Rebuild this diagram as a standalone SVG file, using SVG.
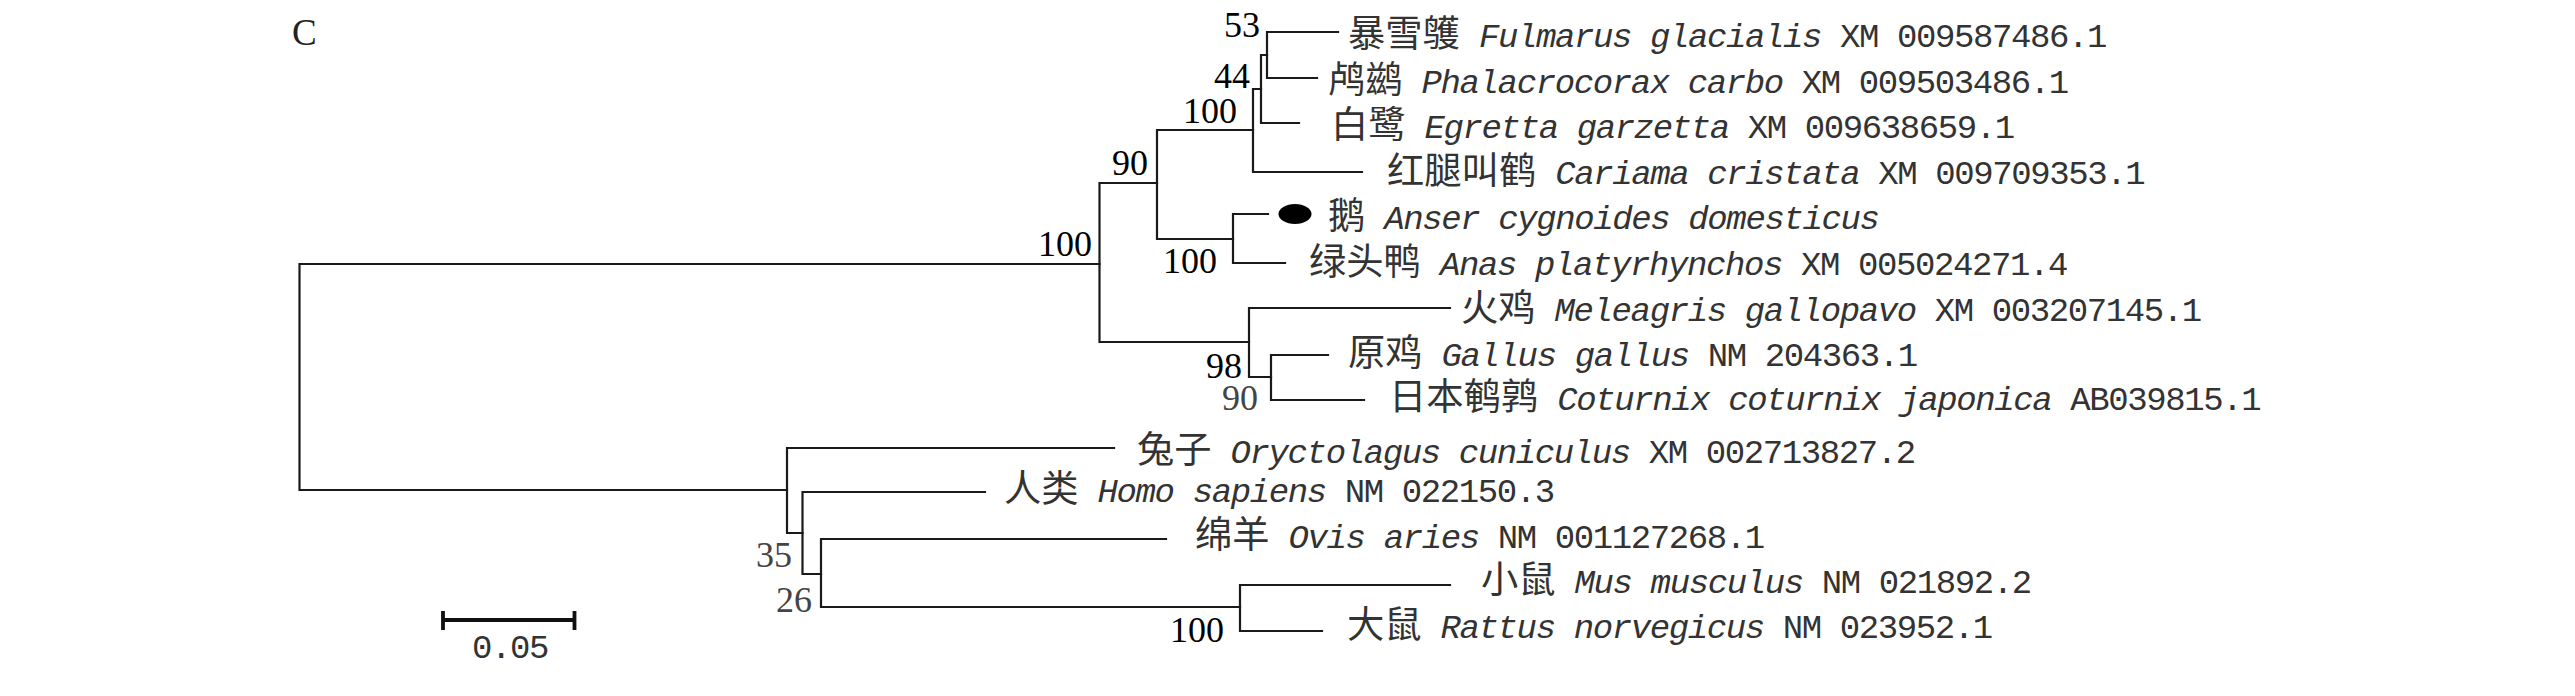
<svg xmlns="http://www.w3.org/2000/svg" width="2575" height="696" viewBox="0 0 2575 696">
<style>
.br{fill:none;stroke:#1a1a1a;stroke-width:2.2;stroke-linecap:square}
.bs{font-family:"Liberation Serif",serif;font-size:36px;text-anchor:end;fill:#000}
.g{fill:#444}
.lab{font-family:"Liberation Mono","Noto Sans CJK SC",monospace;font-size:34px;letter-spacing:-1.4px;fill:#333}
.cjk{font-family:"Noto Sans CJK SC",sans-serif;font-size:37.3px;letter-spacing:0}
.it{font-style:italic}
</style>
<rect width="2575" height="696" fill="#fff"/>
<text x="292" y="45" font-family="Liberation Serif, serif" font-size="37" fill="#222">C</text>

<g id="connectors" class="br">
<path d="M299.5,264V490M299.5,264H1099.5M299.5,490H787"/>
<path d="M1099.5,183V342M1099.5,183H1157M1099.5,342H1249"/>
<path d="M1157,130V239M1157,130H1253M1157,239H1233"/>
<path d="M1253,89V172M1253,89H1261M1253,172H1362"/>
<path d="M1261,55V123M1261,55H1267M1261,123H1299"/>
<path d="M1267,32V78M1267,32H1338M1267,78H1317"/>
<path d="M1233,214V263M1233,214H1268M1233,263H1285"/>
<path d="M1249,308V377M1249,308H1450M1249,377H1271"/>
<path d="M1271,355V400M1271,355H1328M1271,400H1364"/>
<path d="M787,448V533M787,448H1114M787,533H802.5"/>
<path d="M802.5,492V574M802.5,492H985M802.5,574H821"/>
<path d="M821,539V607M821,539H1166M821,607H1240"/>
<path d="M1240,585V631M1240,585H1450M1240,631H1322"/>
</g>

<g id="node-53"><text class="bs" x="1260" y="37">53</text></g>
<g id="node-44"><text class="bs" x="1250" y="88">44</text></g>
<g id="node-100a"><text class="bs" x="1237" y="123">100</text></g>
<g id="node-90a"><text class="bs" x="1148" y="175">90</text></g>
<g id="node-100b"><text class="bs" x="1092" y="256">100</text></g>
<g id="node-100c"><text class="bs" x="1217" y="273">100</text></g>
<g id="node-98"><text class="bs" x="1242" y="378">98</text></g>
<g id="node-90b"><text class="bs g" x="1258" y="410">90</text></g>
<g id="node-35"><text class="bs g" x="792" y="567">35</text></g>
<g id="node-26"><text class="bs g" x="812" y="612">26</text></g>
<g id="node-100d"><text class="bs" x="1224" y="642">100</text></g>

<g id="leaf-fulmarus"><text class="lab" x="1348" y="47"><tspan class="cjk">暴雪鹱</tspan> <tspan class="it">Fulmarus glacialis</tspan> XM 009587486.1</text></g>
<g id="leaf-phalacrocorax"><text class="lab" x="1328" y="93"><tspan class="cjk">鸬鹚</tspan> <tspan class="it">Phalacrocorax carbo</tspan> XM 009503486.1</text></g>
<g id="leaf-egretta"><text class="lab" x="1331" y="138"><tspan class="cjk">白鹭</tspan> <tspan class="it">Egretta garzetta</tspan> XM 009638659.1</text></g>
<g id="leaf-cariama"><text class="lab" x="1387" y="184"><tspan class="cjk">红腿叫鹤</tspan> <tspan class="it">Cariama cristata</tspan> XM 009709353.1</text></g>
<g id="leaf-anser"><ellipse cx="1295" cy="214" rx="16.5" ry="10" fill="#000"/><text class="lab" x="1328" y="229"><tspan class="cjk">鹅</tspan> <tspan class="it">Anser cygnoides domesticus</tspan></text></g>
<g id="leaf-anas"><text class="lab" x="1309" y="275"><tspan class="cjk">绿头鸭</tspan> <tspan class="it">Anas platyrhynchos</tspan> XM 005024271.4</text></g>
<g id="leaf-meleagris"><text class="lab" x="1461" y="321"><tspan class="cjk">火鸡</tspan> <tspan class="it">Meleagris gallopavo</tspan> XM 003207145.1</text></g>
<g id="leaf-gallus"><text class="lab" x="1348" y="366"><tspan class="cjk">原鸡</tspan> <tspan class="it">Gallus gallus</tspan> NM 204363.1</text></g>
<g id="leaf-coturnix"><text class="lab" x="1389" y="410"><tspan class="cjk">日本鹌鹑</tspan> <tspan class="it">Coturnix coturnix japonica</tspan> AB039815.1</text></g>
<g id="leaf-oryctolagus"><text class="lab" x="1137" y="463"><tspan class="cjk">兔子</tspan> <tspan class="it">Oryctolagus cuniculus</tspan> XM 002713827.2</text></g>
<g id="leaf-homo"><text class="lab" x="1004" y="502"><tspan class="cjk">人类</tspan> <tspan class="it">Homo sapiens</tspan> NM 022150.3</text></g>
<g id="leaf-ovis"><text class="lab" x="1195" y="548"><tspan class="cjk">绵羊</tspan> <tspan class="it">Ovis aries</tspan> NM 001127268.1</text></g>
<g id="leaf-mus"><text class="lab" x="1481" y="593"><tspan class="cjk">小鼠</tspan> <tspan class="it">Mus musculus</tspan> NM 021892.2</text></g>
<g id="leaf-rattus"><text class="lab" x="1347" y="638"><tspan class="cjk">大鼠</tspan> <tspan class="it">Rattus norvegicus</tspan> NM 023952.1</text></g>

<g id="scale-bar">
<path d="M443,620H574.5M443,611V630M574.5,611V630" fill="none" stroke="#111" stroke-width="3.8"/>
<text class="lab g" x="472" y="658">0.05</text>
</g>
</svg>
